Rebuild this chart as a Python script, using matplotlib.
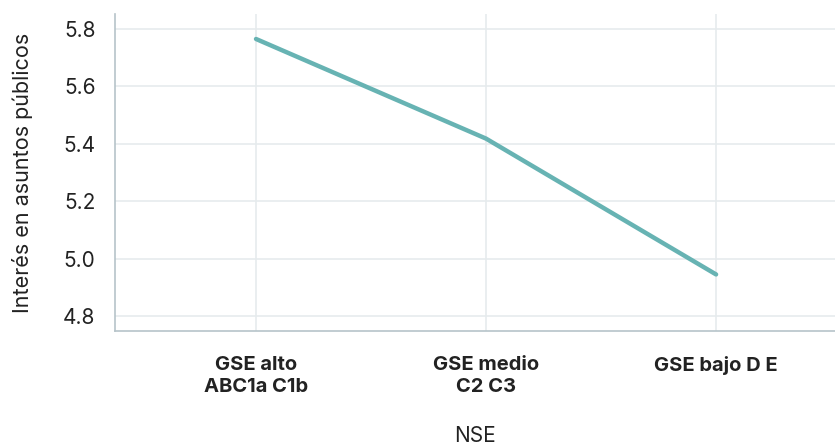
import matplotlib
matplotlib.use("Agg")
import matplotlib.pyplot as plt

categories = ["GSE alto\nABC1a C1b", "GSE medio\nC2 C3", "GSE bajo D E"]
values = [5.765, 5.418, 4.945]
yticks = [4.8, 5.0, 5.2, 5.4, 5.6, 5.8]

plt.rcParams['font.family'] = ['Inter', 'DejaVu Sans']

W, H = 835, 446
fig = plt.figure(figsize=(W / 100, H / 100), dpi=100)
ax = fig.add_axes([115 / W, 1 - 331 / H, 1 - 115 / W, (331 - 14) / H])

x = list(range(len(categories)))
ax.plot(x, values, color="#67b3b3", linewidth=3.2, solid_capstyle="round", zorder=3)

ax.set_xlim(-0.613, 2.517)
ax.set_ylim(4.748, 5.852)
ax.set_yticks(yticks)
ax.set_yticklabels([f"{v:.1f}" for v in yticks], fontsize=15, color="#222222")
ax.set_xticks(x)
ax.set_xticklabels(categories, fontsize=14.5, fontweight="bold", color="#222222", linespacing=1.25)
ax.tick_params(axis="both", length=0)
ax.tick_params(axis="y", pad=14)
ax.tick_params(axis="x", pad=18)

ax.grid(True, color="#e6ebed", linewidth=1.2, zorder=0)
ax.set_axisbelow(True)
for s in ["top", "right"]:
    ax.spines[s].set_visible(False)
for s in ["left", "bottom"]:
    ax.spines[s].set_color("#b6c3c9")
    ax.spines[s].set_linewidth(1.2)

ax.set_ylabel("Interés en asuntos públicos", fontsize=15.5, color="#222222", labelpad=22)
fig.text((115 + 835) / 2 / W, 1 - 436 / H, "NSE", fontsize=15, color="#222222",
         ha="center", va="center")

fig.savefig("out.png", dpi=100)
